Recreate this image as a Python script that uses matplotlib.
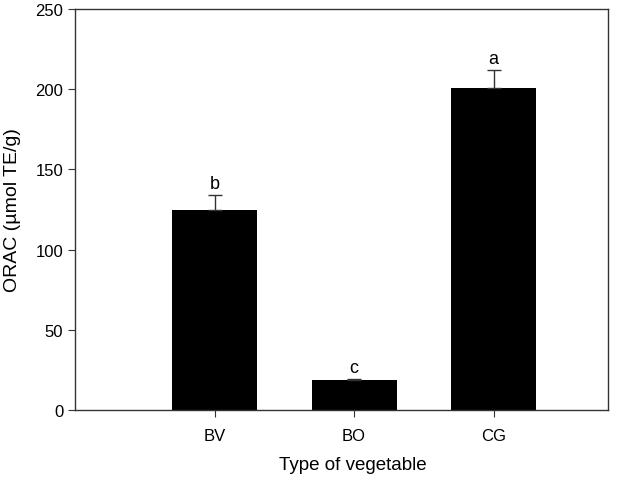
import matplotlib
matplotlib.use('Agg')
import matplotlib.pyplot as plt

plt.rcParams['font.family'] = ['Liberation Sans', 'DejaVu Sans']

# data
vegetables = ['BV', 'BO', 'CG']
orac = [125, 18.5, 201]
orac_err = [9, 1, 11]
letters = ['b', 'c', 'a']

fig = plt.figure(figsize=(6.38, 4.81), dpi=100)
ax = fig.add_axes([0.1176, 0.1455, 0.8354, 0.8335])

pos = [1, 2, 3]
ax.bar(pos, orac, width=0.61, color='black', zorder=2)
ax.errorbar(pos, orac, yerr=[[0] * len(orac), orac_err], fmt='none',
            ecolor='#333333', elinewidth=1, capsize=5, capthick=1, zorder=3)

# significance letters above the error bars
for x, v, e, l in zip(pos, orac, orac_err, letters):
    ax.text(x, v + e + 2, l, ha='center', va='bottom', fontsize=13)

ax.set_xlim(0, 3.82)
ax.set_ylim(0, 250)
ax.set_xticks(pos)
ax.set_xticklabels(vegetables)
ax.set_yticks(range(0, 251, 50))
ax.tick_params(axis='both', direction='out', length=5, labelsize=12,
               top=False, right=False, color='#333333')
ax.tick_params(axis='x', pad=8)
for s in ax.spines.values():
    s.set_color('#333333')
    s.set_linewidth(1)

ax.set_xlabel('Type of vegetable', fontsize=13.5, labelpad=9)
ax.xaxis.label.set_x(0.522)  # label sits a bit right of centre
ax.set_ylabel('ORAC (µmol TE/g)', fontsize=14, labelpad=10)

fig.savefig('out.png', dpi=100)
